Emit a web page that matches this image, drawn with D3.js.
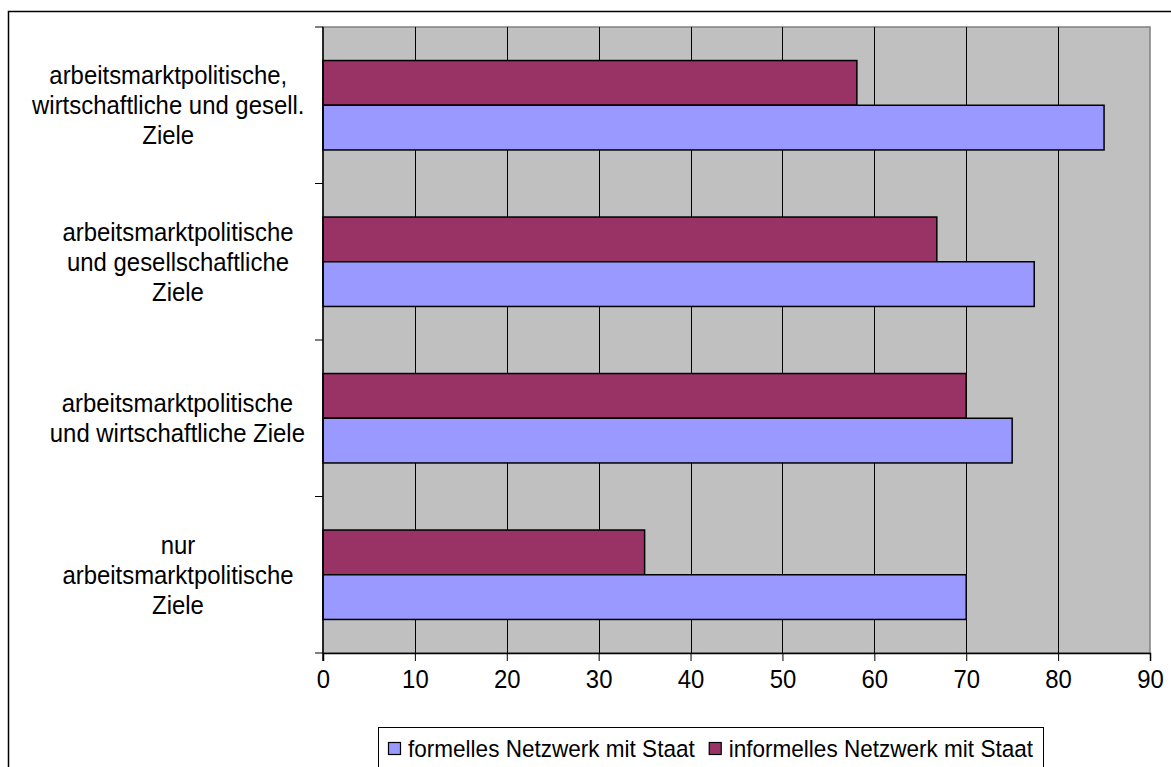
<!DOCTYPE html>
<html>
<head>
<meta charset="utf-8">
<script src="https://cdn.jsdelivr.net/npm/d3@7"></script>
<style>
  html, body { margin: 0; padding: 0; background: #fff; }
  svg { display: block; }
  text { font-family: "Liberation Sans", Arial, sans-serif; fill: #000; }
</style>
</head>
<body>
<svg id="chart" width="1171" height="767"></svg>
<script>
// Category labels (top to bottom), split into lines
const categories = [
  ["arbeitsmarktpolitische,", "wirtschaftliche und gesell.", "Ziele"],
  ["arbeitsmarktpolitische", "und gesellschaftliche", "Ziele"],
  ["arbeitsmarktpolitische", "und wirtschaftliche Ziele"],
  ["nur", "arbeitsmarktpolitische", "Ziele"]
];
const seriesNames = ["formelles Netzwerk mit Staat", "informelles Netzwerk mit Staat"];
const formell = [85, 77.4, 75, 70];
const informell = [58.1, 66.8, 70, 35];
const xTicks = [0, 10, 20, 30, 40, 50, 60, 70, 80, 90];
const colors = { formell: "#9999FF", informell: "#993366" };

const svg = d3.select("#chart");
const fontSize = 26;
const legendFontSize = 24.5;
const squeeze = 0.92; // slightly narrow lettering

// Outer chart frame
svg.append("rect")
  .attr("x", 8.5).attr("y", 11.5)
  .attr("width", 1200).attr("height", 800)
  .attr("fill", "#fff").attr("stroke", "#000").attr("stroke-width", 1.5);

const plot = { left: 323, right: 1150, top: 27, bottom: 653 };

const x = d3.scaleLinear().domain([0, 90]).range([plot.left, plot.right]);
const y = d3.scaleBand().domain(d3.range(categories.length))
  .range([plot.top, plot.bottom]).paddingInner(0).paddingOuter(0);

// Plot background
svg.append("rect")
  .attr("x", plot.left).attr("y", plot.top)
  .attr("width", plot.right - plot.left).attr("height", plot.bottom - plot.top)
  .attr("fill", "#C0C0C0").attr("stroke", "#808080").attr("stroke-width", 1.5);

// Vertical gridlines
svg.append("g").selectAll("line")
  .data(xTicks.filter(t => t > 0 && t < 90))
  .join("line")
  .attr("x1", d => Math.round(x(d)) + 0.5).attr("x2", d => Math.round(x(d)) + 0.5)
  .attr("y1", plot.top).attr("y2", plot.bottom)
  .attr("stroke", "#000").attr("stroke-width", 1);

// Bars: within each category band, the bar band splits into the two series
const bandH = y.bandwidth();
const barH = bandH / 3.5; // gap width 150%
const gapTop = (bandH - 2 * barH) / 2;

const barsG = svg.append("g");
categories.forEach((c, i) => {
  const y0 = y(i) + gapTop;
  barsG.append("rect")
    .attr("x", x(0)).attr("y", y0)
    .attr("width", x(informell[i]) - x(0)).attr("height", barH)
    .attr("fill", colors.informell).attr("stroke", "#000").attr("stroke-width", 1.5);
  barsG.append("rect")
    .attr("x", x(0)).attr("y", y0 + barH)
    .attr("width", x(formell[i]) - x(0)).attr("height", barH)
    .attr("fill", colors.formell).attr("stroke", "#000").attr("stroke-width", 1.5);
});

// X axis
const xAxis = d3.axisBottom(x).tickValues(xTicks).tickSize(8).tickPadding(6);
const xg = svg.append("g").attr("transform", `translate(0,${plot.bottom})`).call(xAxis);
xg.select(".domain").attr("stroke", "#000").attr("stroke-width", 1.5);
xg.selectAll(".tick line").attr("stroke", "#000");
xg.selectAll(".tick text")
  .attr("font-size", fontSize)
  .attr("font-family", "Liberation Sans, Arial, sans-serif")
  .attr("dy", "0.8em")
  .attr("transform", `scale(${squeeze},1)`);

// Y axis line and tick marks at category boundaries
const yTickPos = d3.range(categories.length + 1).map(i => plot.top + i * bandH);
svg.append("line")
  .attr("x1", plot.left).attr("x2", plot.left)
  .attr("y1", plot.top).attr("y2", plot.bottom + 8)
  .attr("stroke", "#000").attr("stroke-width", 1.5);
svg.append("g").selectAll("line").data(yTickPos).join("line")
  .attr("x1", plot.left - 8).attr("x2", plot.left)
  .attr("y1", d => d).attr("y2", d => d)
  .attr("stroke", "#000").attr("stroke-width", 1);

// Category labels, centred block with lines centred
const lineH = 30;
const labelG = svg.append("g");
categories.forEach((lines, i) => {
  const cy = y(i) + bandH / 2;
  const g = labelG.append("g");
  const t = g.append("text").attr("font-size", fontSize).attr("text-anchor", "middle");
  lines.forEach((ln, k) => {
    t.append("tspan")
      .attr("x", 0)
      .attr("y", cy + (k - (lines.length - 1) / 2) * lineH)
      .attr("dy", "0.35em")
      .text(ln);
  });
  const w = t.node().getBBox().width * squeeze;
  const cx = Math.min(178, plot.left - 18 - w / 2);
  g.attr("transform", `translate(${cx},0) scale(${squeeze},1)`);
});

// Legend: items laid out left to right from measured text widths
const legend = svg.append("g");
const legendBox = { left: 378, top: 727, right: 1043 };
legend.append("rect")
  .attr("x", legendBox.left + 0.5).attr("y", legendBox.top + 0.5)
  .attr("width", legendBox.right - legendBox.left).attr("height", 60)
  .attr("fill", "#fff").attr("stroke", "#000").attr("stroke-width", 1);
const legendItems = [
  { name: seriesNames[0], color: colors.formell },
  { name: seriesNames[1], color: colors.informell }
];
let cursor = legendBox.left + 10;
legendItems.forEach(d => {
  legend.append("rect")
    .attr("x", cursor + 0.5).attr("y", 742.5).attr("width", 12).attr("height", 12)
    .attr("fill", d.color).attr("stroke", "#000").attr("stroke-width", 1.2);
  const t = legend.append("text")
    .attr("transform", `translate(${cursor + 20},748.5) scale(${squeeze},1)`)
    .attr("dy", "0.35em")
    .attr("font-size", legendFontSize)
    .text(d.name);
  cursor += 20 + t.node().getComputedTextLength() * squeeze + 14;
});
</script>
</body>
</html>
